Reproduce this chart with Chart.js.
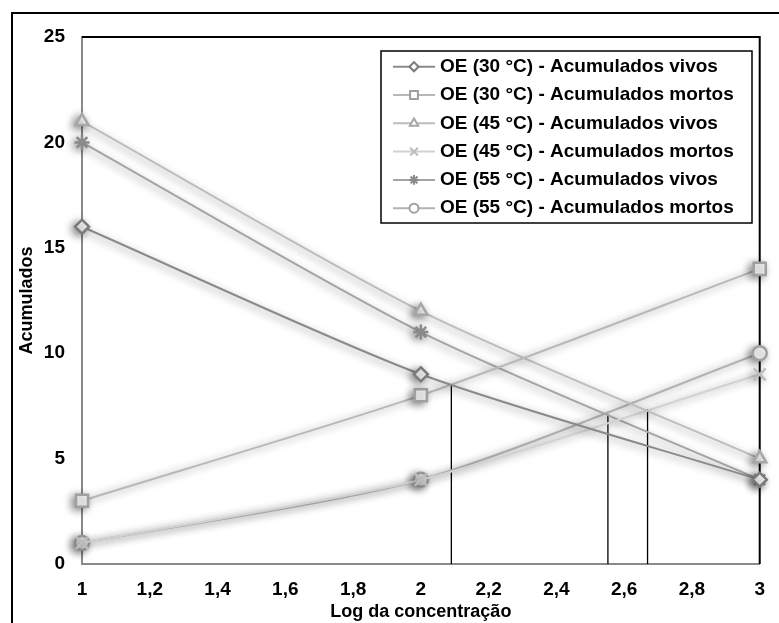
<!DOCTYPE html>
<html>
<head>
<meta charset="utf-8">
<script src="https://cdn.jsdelivr.net/npm/chart.js"></script>
<style>
  html, body { margin: 0; padding: 0; background: #fff; }
  #wrap { width: 779px; height: 623px; position: relative; }
</style>
</head>
<body>
<div id="wrap"><canvas id="chart" width="779" height="623"></canvas></div>
<script>
// --- data ---
const xValues = [1, 2, 3];
const oe30Vivos = [16, 9, 4];
const oe30Mortos = [3, 8, 14];
const oe45Vivos = [21, 12, 5];
const oe45Mortos = [1, 4, 9];
const oe55Vivos = [20, 11, 4];
const oe55Mortos = [1, 4, 10];

// black vertical guide lines (x position, height)
const guideX = [2.09, 2.552, 2.669];
const guideTop = [8.54, 7.1, 7.34];

const seriesLabels = [
    'OE (30 °C) - Acumulados vivos',
    'OE (30 °C) - Acumulados mortos',
    'OE (45 °C) - Acumulados vivos',
    'OE (45 °C) - Acumulados mortos',
    'OE (55 °C) - Acumulados vivos',
    'OE (55 °C) - Acumulados mortos'
];
const seriesValues = [oe30Vivos, oe30Mortos, oe45Vivos, oe45Mortos, oe55Vivos, oe55Mortos];
const seriesStyles = ['rectRot', 'rect', 'triangle', 'crossRot', 'star', 'circle'];
const markerRadius = [7, 8.5, 7.5, 8.5, 7.5, 7];
const markerColors = ['#7a7a7a', '#a0a0a0', '#a6a6a6', '#bcbcbc', '#8a8a8a', '#a0a0a0'];
const lineColors = ['#8a8a8a', '#b8b8b8', '#bdbdbd', '#d2d2d2', '#a4a4a4', '#b2b2b2'];

const FONT = '"Liberation Sans", Arial, sans-serif';

const datasets = seriesValues.map((vals, i) => ({
    label: seriesLabels[i],
    data: vals.map((v, j) => ({ x: xValues[j], y: v })),
    borderColor: lineColors[i],
    borderWidth: 2,
    pointStyle: seriesStyles[i],
    pointRadius: markerRadius[i],
    pointBorderWidth: 2.5,
    pointBorderColor: markerColors[i],
    pointBackgroundColor: '#fff',
    tension: 0.25,
    clip: false,
    isSeries: true
}));

guideX.forEach((gx, i) => {
    datasets.push({
        label: '',
        data: [{ x: gx, y: 0 }, { x: gx, y: guideTop[i] }],
        borderColor: '#000',
        borderWidth: 1.3,
        pointRadius: 0,
        tension: 0,
        isSeries: false
    });
});

// soft Excel-like shadow on series only
const shadowPlugin = {
    id: 'shadow',
    beforeDatasetDraw(chart, args) {
        const ctx = chart.ctx;
        ctx.save();
        if (chart.data.datasets[args.index].isSeries) {
            ctx.shadowColor = 'rgba(0,0,0,0.45)';
            ctx.shadowBlur = 8;
            ctx.shadowOffsetX = -3;
            ctx.shadowOffsetY = 2;
        }
    },
    afterDatasetDraw(chart) {
        chart.ctx.restore();
    }
};

const framePlugin = {
    id: 'frame',
    beforeDatasetsDraw(chart) {
        const { ctx, chartArea: a } = chart;
        ctx.save();
        // outer frame (left + top visible)
        ctx.strokeStyle = '#000';
        ctx.lineWidth = 2;
        ctx.strokeRect(12, 13, 900, 800);
        // plot area top and right in black
        ctx.beginPath();
        ctx.moveTo(a.left, a.top);
        ctx.lineTo(a.right, a.top);
        ctx.lineTo(a.right, a.bottom);
        ctx.stroke();
        ctx.restore();
    }
};

const legendPlugin = {
    id: 'boxLegend',
    afterDraw(chart) {
        const ctx = chart.ctx;
        const bx = 381, by = 51, bw = 371, bh = 172;
        ctx.save();
        ctx.fillStyle = '#fff';
        ctx.fillRect(bx, by, bw, bh);
        ctx.strokeStyle = '#000';
        ctx.lineWidth = 1.5;
        ctx.strokeRect(bx, by, bw, bh);
        ctx.font = 'bold 19px ' + FONT;
        ctx.textBaseline = 'middle';
        seriesLabels.forEach((label, i) => {
            const y = 66.7 + i * 28.3;
            ctx.strokeStyle = lineColors[i];
            ctx.lineWidth = 2;
            ctx.beginPath();
            ctx.moveTo(393, y);
            ctx.lineTo(435, y);
            ctx.stroke();
            ctx.fillStyle = '#fff';
            ctx.strokeStyle = markerColors[i];
            Chart.helpers.drawPoint(ctx, { pointStyle: seriesStyles[i], radius: markerRadius[i] * 0.65, borderWidth: 2, rotation: 0 }, 414, y);
            ctx.fillStyle = '#000';
            ctx.fillText(label, 440, y);
        });
        ctx.restore();
    }
};

new Chart(document.getElementById('chart'), {
    type: 'line',
    data: { datasets },
    options: {
        responsive: false,
        animation: false,
        layout: { padding: { top: 37, right: 16, left: 0, bottom: 0 } },
        plugins: { legend: { display: false }, tooltip: { enabled: false } },
        scales: {
            x: {
                type: 'linear',
                min: 1,
                max: 3,
                ticks: {
                    stepSize: 0.2,
                    padding: 14,
                    color: '#000',
                    font: { family: FONT, size: 19, weight: 'bold' },
                    callback: v => (Math.round(v * 10) / 10).toString().replace('.', ',')
                },
                grid: { display: false, drawTicks: false },
                border: { color: '#8a8a8a', width: 2 },
                title: {
                    display: true,
                    text: 'Log da concentração',
                    color: '#000',
                    font: { family: FONT, size: 18, weight: 'bold' },
                    padding: { top: 0, bottom: 0 }
                },
                afterFit(scale) { scale.height = 59; }
            },
            y: {
                min: 0,
                max: 25,
                ticks: {
                    stepSize: 5,
                    padding: 17,
                    color: '#000',
                    font: { family: FONT, size: 19, weight: 'bold' }
                },
                grid: { display: false, drawTicks: false },
                border: { color: '#8a8a8a', width: 2 },
                title: {
                    display: true,
                    text: 'Acumulados',
                    color: '#000',
                    font: { family: FONT, size: 18, weight: 'bold' },
                    padding: { top: 16, bottom: 0 }
                },
                afterFit(scale) { scale.width = 82; }
            }
        }
    },
    plugins: [shadowPlugin, framePlugin, legendPlugin]
});
</script>
</body>
</html>
